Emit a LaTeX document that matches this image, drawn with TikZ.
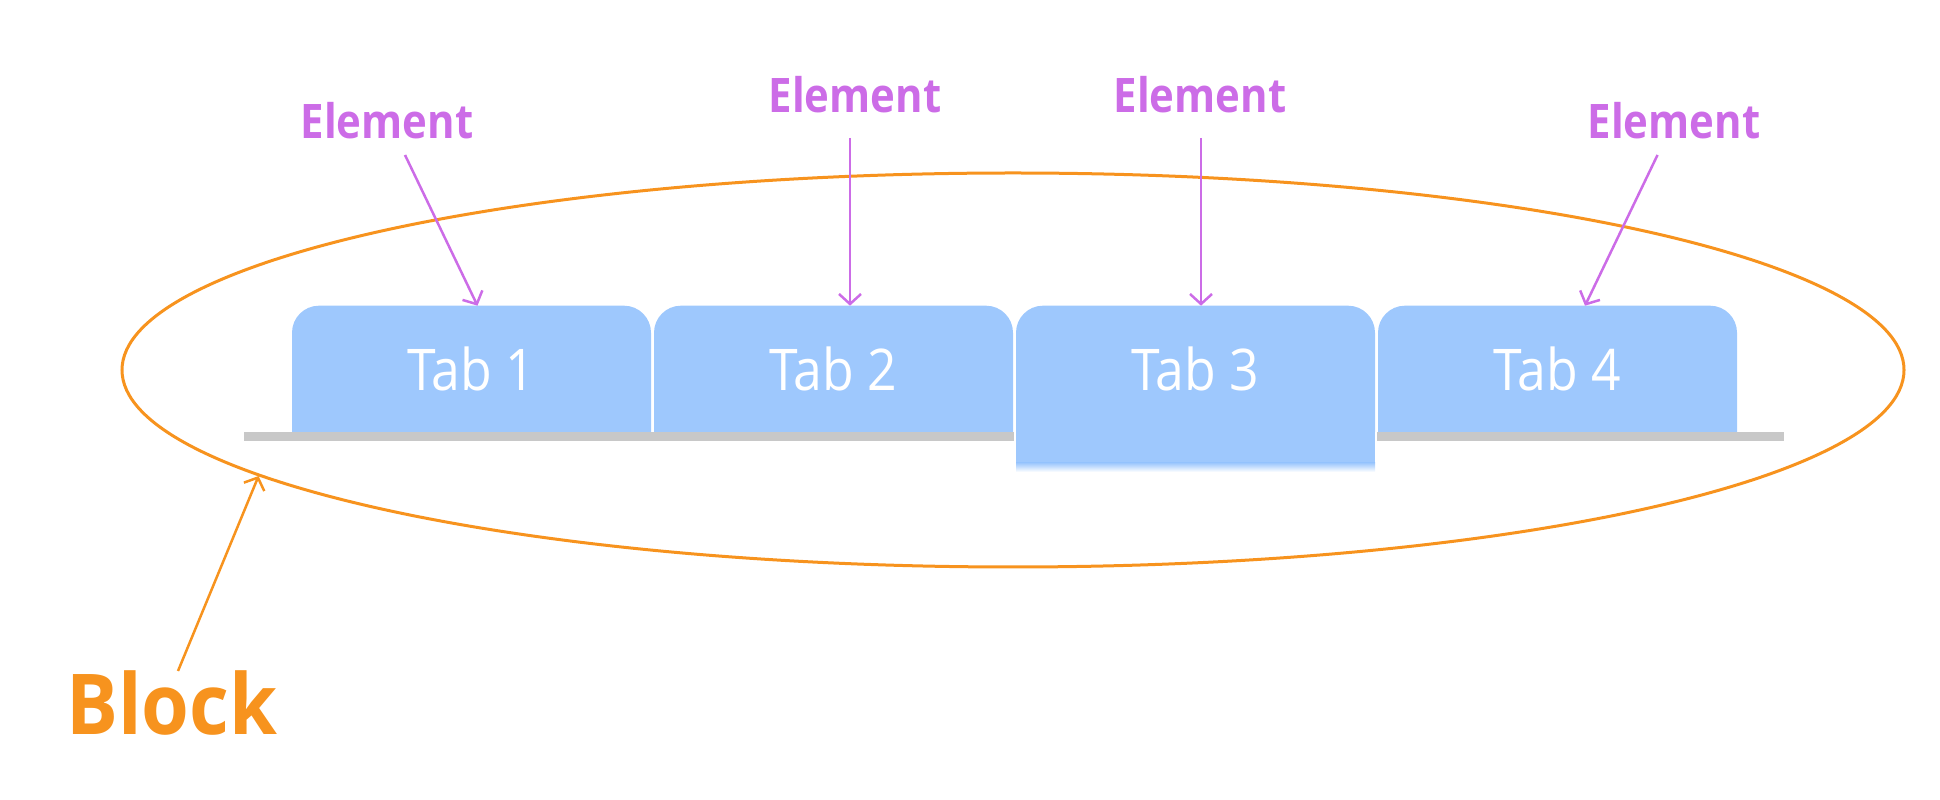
\documentclass[tikz,border=0pt]{standalone}
\usepackage{fontspec}
\setmainfont{Open Sans}
\newfontfamily\tabfont[FakeStretch=0.9]{Open Sans}
\newfontfamily\elfont[FakeStretch=0.88]{Open Sans}
\newfontfamily\blkfont[FakeStretch=0.92]{Open Sans}
\usetikzlibrary{arrows.meta,shapes.geometric}
\pgfdeclarelayer{background}
\pgfsetlayers{background,main}
\definecolor{tabblue}{HTML}{9EC8FD}
\definecolor{borange}{HTML}{F7931E}
\definecolor{epurple}{HTML}{CC6CE7}
\definecolor{bargray}{HTML}{C8C8C8}
\newcommand\tabfill[1]{%
  \fill[tabblue] (#1.south west) -- ([yshift=-27pt]#1.north west)
    arc[start angle=180,end angle=90,radius=27pt]
    -- ([xshift=-27pt]#1.north east)
    arc[start angle=90,end angle=0,radius=27pt]
    -- (#1.south east) -- cycle;}
\begin{document}
\begin{tikzpicture}[x=1pt,y=1pt,
  tabnode/.style={minimum width=359pt, minimum height=126.3pt, inner sep=0pt, outer sep=0pt,
    text=white, font=\tabfont\fontsize{57.5}{70}\selectfont},
  elabel/.style={text=epurple, font=\elfont\fontsize{47.6}{57}\selectfont\bfseries, inner sep=0pt, anchor=base},
  earrow/.style={draw=epurple, line width=2.5pt, -{Straight Barb[length=10pt,width=22pt]}},
  barrow/.style={draw=borange, line width=2.5pt, -{Straight Barb[length=10pt,width=22pt]}},
  blockshape/.style={draw=borange, line width=3pt, ellipse, minimum width=1782pt, minimum height=394pt, inner sep=0pt},
  bar/.style={fill=bargray}]
\useasboundingbox (0,0) rectangle (1940,800);

% tabs (text nodes)
\node[tabnode] (tab1) at (471.5,431.15) {Tab 1};
\node[tabnode] (tab2) at (833.5,431.15) {Tab 2};
\node[tabnode] (tab3) at (1195.5,431.15) {Tab 3};
\node[tabnode] (tab4) at (1557.5,431.15) {Tab 4};

\begin{pgfonlayer}{background}
  \fill[bar] (244,359.3) rectangle (1014,367.7);
  \fill[bar] (1377,359.3) rectangle (1784,367.7);
  \tabfill{tab1}
  \tabfill{tab2}
  \tabfill{tab3}
  \tabfill{tab4}
  \fill[tabblue] (tab3.south west) rectangle ([yshift=-31pt]tab3.south east);
  \shade[top color=tabblue,bottom color=white] ([yshift=-31pt]tab3.south west) rectangle ([yshift=-40pt]tab3.south east);
\end{pgfonlayer}

% block ellipse
\node[blockshape] (block) at (1013,430) {};

% labels
\node[elabel] (e1) at (387,661) {Element};
\node[elabel] (e2) at (855,687) {Element};
\node[elabel] (e3) at (1200,687) {Element};
\node[elabel] (e4) at (1674,661) {Element};
\node[text=borange, font=\blkfont\fontsize{84}{100}\selectfont\bfseries, inner sep=0pt, anchor=base] (blk) at (172,65) {Block};

% connectors
\draw[earrow] ([xshift=18pt,yshift=-16pt]e1.base) -- ([xshift=6pt]tab1.north);
\draw[earrow] ([xshift=-5pt,yshift=-25pt]e2.base) -- ([xshift=16.5pt]tab2.north);
\draw[earrow] ([xshift=1pt,yshift=-25pt]e3.base) -- ([xshift=5.5pt]tab3.north);
\draw[earrow] ([xshift=-16.5pt,yshift=-16pt]e4.base) -- ([xshift=27.5pt]tab4.north);
\draw[barrow] ([xshift=6pt]blk.north) -- (block.188.6);
\end{tikzpicture}
\end{document}
